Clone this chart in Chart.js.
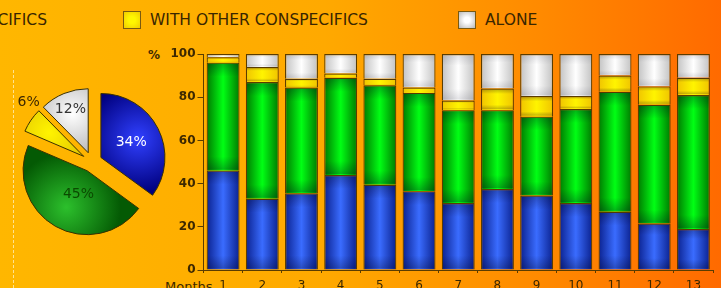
<!DOCTYPE html>
<html>
<head>
<meta charset="utf-8">
<script src="https://cdn.jsdelivr.net/npm/chart.js@4/dist/chart.umd.min.js"></script>
<style>
  html, body { margin:0; padding:0; }
  body { width:721px; height:288px; overflow:hidden; position:relative;
    background: linear-gradient(90deg, #ffb700 0%, #ffa900 45%, #ff8a00 75%, #ff6a00 100%);
    font-family: "DejaVu Sans", Verdana, sans-serif; color:#3d2800; }
  #barWrap { position:absolute; left:140px; top:0; width:581px; height:288px; }
  #pieWrap { position:absolute; left:0; top:62px; width:184px; height:200px; }
  .leg { position:absolute; top:11px; font-size:15.5px; white-space:nowrap; line-height:18px; color:#3a2600; }
  .box { position:absolute; top:11px; width:16px; height:16px; border:1px solid #7a5a10; }
  .txt { position:absolute; font-size:12px; font-weight:bold; white-space:nowrap; }
  #dash { position:absolute; left:13px; top:70px; height:218px; border-left:1px dashed rgba(255,235,170,0.85); }
</style>
</head>
<body>
<div id="dash"></div>
<div class="leg" style="right:674px; text-align:right;">WITH HETEROSPECIFICS</div>
<div class="box" style="left:123px; background:radial-gradient(circle, #fff600 30%, #f0cc00 100%);"></div>
<div class="leg" style="left:150px;">WITH OTHER CONSPECIFICS</div>
<div class="box" style="left:458px; background:radial-gradient(circle, #ffffff 25%, #b8b8b8 100%);"></div>
<div class="leg" style="left:485px;">ALONE</div>
<div class="txt" style="left:148px; top:48px;">%</div>
<div class="txt" style="left:165px; top:279px; font-weight:normal; font-size:13px;">Months</div>
<div id="pieWrap"><canvas id="pie"></canvas></div>
<div id="barWrap"><canvas id="bar"></canvas></div>
<script>
// ---- data ----
const months = ['1','2','3','4','5','6','7','8','9','10','11','12','13'];
const seriesNames = ['WITH MOTHER','WITH HETEROSPECIFICS','WITH OTHER CONSPECIFICS','ALONE'];
const blueVals   = [46, 33, 35.5, 44, 39.5, 36.5, 31, 37.5, 34.5, 31, 27, 21.5, 19];
const greenVals  = [50, 54, 49, 45, 46, 45.5, 43, 36.5, 36.5, 43.5, 55.5, 55, 62];
const yellowVals = [2.5, 7, 4, 2, 3, 2.5, 4.5, 10, 9.5, 6, 7.5, 8.5, 8];
const greyVals   = [1.5, 6, 11.5, 9, 11.5, 15.5, 21.5, 16, 19.5, 19.5, 10, 15, 11];
const pieVals    = [34, 45, 6, 12];
const yTicks     = [0, 20, 40, 60, 80, 100];

const TXT = '#3d2800';
const BORDER = '#5a3c00';

// bar gradients (horizontal: dark - bright - dark)
const barShades = [
  ['#0b2290', '#3a6cff'],
  ['#007a00', '#00ff14'],
  ['#f0c400', '#fff400'],
  ['#c2c2c2', '#ffffff']
];
function barFill(k) {
  return function(ctx) {
    const chart = ctx.chart;
    const xs = chart.scales && chart.scales.x;
    if (!chart.chartArea || !xs) return barShades[k][1];
    const cx = xs.getPixelForValue(ctx.dataIndex);
    const w = (xs.width / months.length) * 0.84;
    const g = chart.ctx.createLinearGradient(cx - w / 2, 0, cx + w / 2, 0);
    g.addColorStop(0, barShades[k][0]);
    g.addColorStop(0.5, barShades[k][1]);
    g.addColorStop(1, barShades[k][0]);
    return g;
  };
}

const pillow = {
  id: 'pillow',
  afterDatasetsDraw(chart) {
    const c = chart.ctx;
    chart.data.datasets.forEach((ds, di) => {
      const meta = chart.getDatasetMeta(di);
      meta.data.forEach(el => {
        const p = el.getProps(['x', 'y', 'base', 'width'], true);
        const top = Math.min(p.y, p.base), bot = Math.max(p.y, p.base);
        const h = bot - top;
        if (h < 3) return;
        const g = c.createLinearGradient(0, top, 0, bot);
        const a = di === 3 ? 0.12 : 0.3;
        g.addColorStop(0, 'rgba(0,0,30,' + a + ')');
        g.addColorStop(Math.min(0.25, 14 / h), 'rgba(0,0,30,0)');
        g.addColorStop(Math.max(0.75, 1 - 14 / h), 'rgba(0,0,30,0)');
        g.addColorStop(1, 'rgba(0,0,30,' + a + ')');
        c.save();
        c.fillStyle = g;
        c.fillRect(p.x - p.width / 2 + 1, top + 1, p.width - 2, h - 2);
        c.restore();
      });
    });
  }
};

new Chart(document.getElementById('bar'), {
  type: 'bar',
  data: {
    labels: months,
    datasets: [
      { label: seriesNames[0], data: blueVals,   backgroundColor: barFill(0) },
      { label: seriesNames[1], data: greenVals,  backgroundColor: barFill(1) },
      { label: seriesNames[2], data: yellowVals, backgroundColor: barFill(2) },
      { label: seriesNames[3], data: greyVals,   backgroundColor: barFill(3) }
    ]
  },
  options: {
    responsive: true,
    maintainAspectRatio: false,
    animation: false,
    layout: { padding: { left: 0, right: 8, top: 54, bottom: 0 } },
    datasets: { bar: { barPercentage: 0.84, categoryPercentage: 1, borderColor: BORDER, borderWidth: 1.2 } },
    plugins: { legend: { display: false }, tooltip: { enabled: false } },
    scales: {
      x: {
        stacked: true,
        afterFit(s) { s.height = 18; },
        border: { display: true, color: BORDER, width: 1 },
        grid: { display: true, drawOnChartArea: false, offset: true, tickLength: 3, color: BORDER },
        ticks: { autoSkip: false, maxRotation: 0, padding: 6, color: TXT,
                 font: { family: 'DejaVu Sans', size: 12 } }
      },
      y: {
        stacked: true,
        min: 0, max: 100,
        afterFit(s) { s.width = 63.5; },
        afterBuildTicks(s) { s.ticks = yTicks.map(v => ({ value: v })); },
        border: { display: true, color: BORDER, width: 1 },
        grid: { display: true, drawOnChartArea: false, tickLength: 6, color: BORDER },
        ticks: { padding: 2, color: TXT, font: { family: 'DejaVu Sans', size: 12, weight: 'bold' } }
      }
    }
  },
  plugins: [pillow]
});

// ---- pie ----
const pieShades = [
  ['#3040ff', '#00007e'],
  ['#2cc02c', '#045a04'],
  ['#fff400', '#d8b400'],
  ['#ffffff', '#a4a4a4']
];
const PIE_R = 64;
const PIE_SHIFT = 10;   // exploded distance of every slice, px
function pieAngles(i) {
  const total = pieVals.reduce((a, b) => a + b, 0);
  let start = -Math.PI / 2;
  for (let k = 0; k < i; k++) start += pieVals[k] / total * 2 * Math.PI;
  const end = start + pieVals[i] / total * 2 * Math.PI;
  return (start + end) / 2;
}
function pieFill(ctx) {
  const chart = ctx.chart, ca = chart.chartArea;
  const i = ctx.dataIndex;
  if (!ca) return pieShades[i][0];
  const cx = (ca.left + ca.right) / 2, cy = (ca.top + ca.bottom) / 2;
  const m = pieAngles(i);
  const gx = cx + Math.cos(m) * (PIE_SHIFT + PIE_R * 0.5);
  const gy = cy + Math.sin(m) * (PIE_SHIFT + PIE_R * 0.5);
  const g = chart.ctx.createRadialGradient(gx, gy, 0, gx, gy, PIE_R * 0.85);
  g.addColorStop(0, pieShades[i][0]);
  g.addColorStop(1, pieShades[i][1]);
  return g;
}
// explode slices by a plain translation (Chart.js offset also enlarges radius)
const explode = {
  id: 'explode',
  beforeDatasetsDraw(chart) {
    const meta = chart.getDatasetMeta(0);
    meta.data.forEach((el, i) => {
      if (el._exploded) return;
      el._exploded = true;
      const orig = el.draw;
      el.draw = function(ctx) {
        const p = this.getProps(['startAngle', 'endAngle'], true);
        const m = (p.startAngle + p.endAngle) / 2;
        ctx.save();
        ctx.translate(Math.cos(m) * PIE_SHIFT, Math.sin(m) * PIE_SHIFT);
        orig.call(this, ctx);
        ctx.restore();
      };
    });
  }
};
const pieLabelDist = [44, 35, 87, 57];
const pieLabelTurn = [0, -7, 9, 0];
const pieLabelColor = ['#ffffff', '#0b4a00', TXT, '#333333'];
const pieLabels = {
  id: 'pieLabels',
  afterDatasetsDraw(chart) {
    const ca = chart.chartArea, c = chart.ctx;
    const cx = (ca.left + ca.right) / 2, cy = (ca.top + ca.bottom) / 2;
    c.save();
    c.font = '14px "DejaVu Sans"';
    c.textAlign = 'center';
    c.textBaseline = 'middle';
    pieVals.forEach((v, i) => {
      const m = pieAngles(i) + pieLabelTurn[i] * Math.PI / 180;
      c.fillStyle = pieLabelColor[i];
      c.fillText(v + '%', cx + Math.cos(m) * pieLabelDist[i], cy + Math.sin(m) * pieLabelDist[i]);
    });
    c.restore();
  }
};
new Chart(document.getElementById('pie'), {
  type: 'pie',
  data: {
    labels: ['blue', 'green', 'yellow', 'grey'],
    datasets: [{ data: pieVals, backgroundColor: pieFill, borderColor: '#3a3000', borderWidth: 1, offset: 0 }]
  },
  options: {
    responsive: true,
    maintainAspectRatio: false,
    animation: false,
    radius: PIE_R,
    layout: { padding: 0 },
    plugins: { legend: { display: false }, tooltip: { enabled: false } }
  },
  plugins: [explode, pieLabels]
});
</script>
</body>
</html>
